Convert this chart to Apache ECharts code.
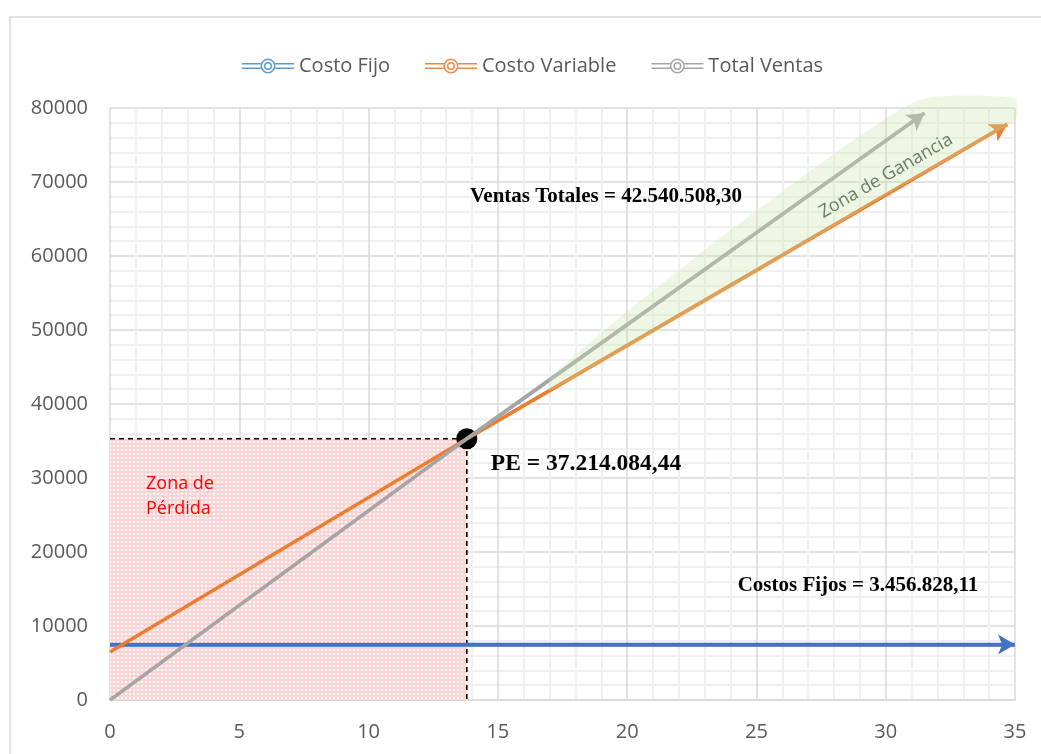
<!DOCTYPE html>
<html>
<head>
<meta charset="utf-8">
<title>Punto de equilibrio</title>
<script src="https://cdn.jsdelivr.net/npm/echarts@6/dist/echarts.min.js"></script>
<style>
	html,body{margin:0;padding:0;background:#fff;}
	#chart{width:1041px;height:754px;}
</style>
</head>
<body>
<div id="chart"></div>
<script>
// datos
var costoFijoX = [0, 35];
var costoFijoY = [7500, 7500];
var costoVariableX = [0, 13.8, 34.7];
var costoVariableY = [6500, 35300, 77800];
var totalVentasX = [0, 13.8, 31.5];
var totalVentasY = [0, 35300, 79300];

// punto de equilibrio
var puntoPE = [13.8, 35300];

// zona de ganancia (contorno)
var gananciaX = [17.0, 20.0, 24.0, 28.0, 31.4, 35.0, 35.0, 30.0, 25.0, 20.0, 17.0];
var gananciaY = [43500, 52500, 63500, 73800, 81200, 81300, 78300, 68200, 57600, 47500, 41800];

var ejeX = {min: 0, max: 35, interval: 5};
var ejeY = {min: 0, max: 80000, interval: 10000};

var fuente = "'Open Sans', 'Noto Sans', sans-serif";
var fuenteSerif = "'Liberation Serif', 'DejaVu Serif', serif";

/**
 * une x / y en pares
 */
function pares(xs, ys){
	var rtn = [];
	for(var i = 0; i < xs.length; i++){
		rtn.push([xs[i], ys[i]]);
	}
	return rtn;
}

/**
 * trama rosa con puntos blancos
 */
function tramaPerdida(){
	var c = document.createElement('canvas');
	c.width = 4;
	c.height = 4;
	var ctx = c.getContext('2d');
	ctx.fillStyle = '#fdd3d3';
	ctx.fillRect(0, 0, 4, 4);
	ctx.fillStyle = '#ffffff';
	ctx.fillRect(1, 1, 2, 2);
	return c;
}

/**
 * icono de leyenda (linea doble + anillos)
 */
var iconoLeyenda = 'path://M0,5h19v1.4h-19z M0,9.6h19v1.4h-19z M33,5h19v1.4h-19z M33,9.6h19v1.4h-19z'
	+ ' M18.5,8a7.5,7.5 0 1,0 15,0a7.5,7.5 0 1,0 -15,0z M20,8a6,6 0 1,1 12,0a6,6 0 1,1 -12,0z'
	+ ' M22,8a4,4 0 1,0 8,0a4,4 0 1,0 -8,0z M23.5,8a2.5,2.5 0 1,1 5,0a2.5,2.5 0 1,1 -5,0z';

/**
 * serie de linea con flecha al final
 */
function serieFlecha(nombre, xs, ys, color){
	var datos = pares(xs, ys);
	var n = datos.length;
	return {
		name: nombre,
		type: 'line',
		data: datos,
		showSymbol: false,
		symbol: 'none',
		clip: false,
		z: 5,
		lineStyle: {color: color, width: 3.5},
		itemStyle: {color: color},
		markLine: {
			silent: true,
			symbol: ['none', 'arrow'],
			symbolSize: [15, 17],
			label: {show: false},
			lineStyle: {color: color, width: 3.5, type: 'solid'},
			data: [[{coord: datos[n - 2]}, {coord: datos[n - 1]}]]
		}
	};
}

var chart = echarts.init(document.getElementById('chart'));
var trama = tramaPerdida();

var option = {
	animation: false,
	backgroundColor: '#ffffff',
	grid: {left: 110, right: 26, top: 108, bottom: 54},
	legend: {
		top: 51,
		left: 237,
		itemWidth: 52,
		itemHeight: 17,
		itemGap: 35,
		textStyle: {color: '#595959', fontSize: 20, fontFamily: fuente},
		data: [
			{name: 'Costo Fijo', icon: iconoLeyenda, itemStyle: {color: '#5b9bd5'}},
			{name: 'Costo Variable', icon: iconoLeyenda, itemStyle: {color: '#eb8a4c'}},
			{name: 'Total Ventas', icon: iconoLeyenda, itemStyle: {color: '#a5a5a5'}}
		]
	},
	xAxis: {
		type: 'value',
		min: ejeX.min,
		max: ejeX.max,
		interval: ejeX.interval,
		axisLine: {show: true, lineStyle: {color: '#d9d9d9', width: 1.5}},
		axisTick: {show: false},
		axisLabel: {color: '#595959', fontSize: 20, fontFamily: fuente, margin: 22},
		splitLine: {show: true, lineStyle: {color: '#d9d9d9', width: 1.5}},
		minorTick: {show: false, splitNumber: 5},
		minorSplitLine: {show: true, lineStyle: {color: '#f0f0f0', width: 2}}
	},
	yAxis: {
		type: 'value',
		min: ejeY.min,
		max: ejeY.max,
		interval: ejeY.interval,
		axisLine: {show: false},
		axisTick: {show: false},
		axisLabel: {
			color: '#595959', fontSize: 20, fontFamily: fuente, margin: 22,
			formatter: function(v){ return String(v); }
		},
		splitLine: {show: true, lineStyle: {color: '#d9d9d9', width: 1.5}},
		minorTick: {show: false, splitNumber: 5},
		minorSplitLine: {show: true, lineStyle: {color: '#f0f0f0', width: 2}}
	},
	series: [
		// zona de perdida
		{
			type: 'custom',
			silent: true,
			z: 1,
			data: [[0, 0, puntoPE[0], puntoPE[1]]],
			renderItem: function(params, api){
				var p0 = api.coord([api.value(0), api.value(1)]);
				var p1 = api.coord([api.value(2), api.value(3)]);
				return {
					type: 'rect',
					shape: {x: p0[0], y: p1[1], width: p1[0] - p0[0], height: p0[1] - p1[1]},
					style: {fill: {image: trama, repeat: 'repeat'}}
				};
			}
		},
		// lineas punteadas del PE
		{
			type: 'line',
			silent: true,
			z: 3,
			symbol: 'none',
			data: [[0, puntoPE[1]], puntoPE, [puntoPE[0], 0]],
			lineStyle: {color: '#000', width: 1.6, type: [5, 4]}
		},
		// punto de equilibrio
		{
			type: 'scatter',
			silent: true,
			z: 4,
			symbolSize: 21,
			data: [puntoPE],
			itemStyle: {color: '#000', opacity: 1}
		},
		serieFlecha('Costo Fijo', costoFijoX, costoFijoY, '#4472c4'),
		serieFlecha('Costo Variable', costoVariableX, costoVariableY, '#ed7d31'),
		serieFlecha('Total Ventas', totalVentasX, totalVentasY, '#a5a5a5'),
		// zona de ganancia
		{
			type: 'custom',
			silent: true,
			z: 8,
			clip: false,
			data: [0],
			renderItem: function(params, api){
				var pts = pares(gananciaX, gananciaY).map(function(p){
					return api.coord(p);
				});
				return {
					type: 'polygon',
					shape: {points: pts, smooth: 0.2},
					style: {fill: 'rgba(200,230,168,0.32)'}
				};
			}
		}
	],
	graphic: [
		{
			type: 'rect',
			silent: true,
			shape: {x: 10, y: 17, width: 1100, height: 800},
			style: {fill: 'none', stroke: '#d9d9d9', lineWidth: 1.5}
		},
		{
			type: 'text', x: 606, y: 197, z: 20,
			style: {text: 'Ventas Totales = 42.540.508,30', font: 'bold 21px ' + fuenteSerif, fill: '#000', align: 'center', verticalAlign: 'middle'}
		},
		{
			type: 'text', x: 586, y: 464, z: 20,
			style: {text: 'PE = 37.214.084,44', font: 'bold 23.5px ' + fuenteSerif, fill: '#000', align: 'center', verticalAlign: 'middle'}
		},
		{
			type: 'text', x: 858, y: 586, z: 20,
			style: {text: 'Costos Fijos = 3.456.828,11', font: 'bold 21px ' + fuenteSerif, fill: '#000', align: 'center', verticalAlign: 'middle'}
		},
		{
			type: 'text', x: 146, y: 496, z: 20,
			style: {text: 'Zona de\nPérdida', font: '18px ' + fuente, fill: '#ff0000', align: 'left', verticalAlign: 'middle', lineHeight: 25}
		},
		{
			type: 'text', x: 886, y: 176, z: 20, rotation: 30 * Math.PI / 180,
			style: {text: 'Zona de Ganancia', font: '18px ' + fuente, fill: '#6f7a66', align: 'center', verticalAlign: 'middle'}
		}
	]
};

chart.setOption(option);
</script>
</body>
</html>
